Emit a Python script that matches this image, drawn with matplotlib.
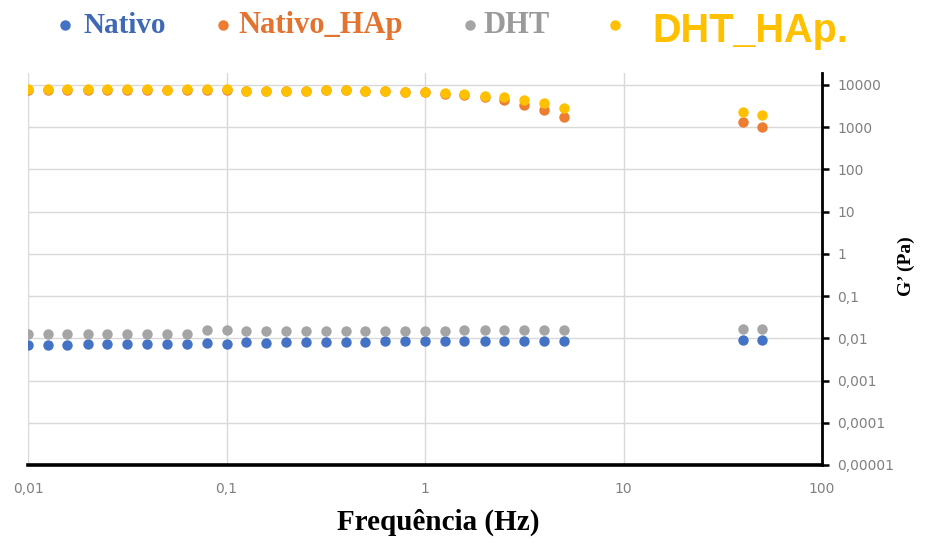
import matplotlib
matplotlib.use("Agg")
import matplotlib.pyplot as plt
from matplotlib.lines import Line2D
from matplotlib.ticker import FixedLocator, FixedFormatter, NullLocator

# ---- data ----
freq_hz = [0.01, 0.0126, 0.0158, 0.02, 0.0251, 0.0316, 0.0398, 0.0501, 0.0631, 0.0794,
           0.1, 0.126, 0.158, 0.2, 0.251, 0.316, 0.398, 0.501, 0.631, 0.794,
           1.0, 1.26, 1.58, 2.0, 2.51, 3.16, 3.98, 5.01, 39.8, 50.1]

nativo = [0.0068, 0.0068, 0.0068, 0.0075, 0.0075, 0.0075, 0.0075, 0.0075, 0.0075, 0.0078,
          0.0075, 0.0080, 0.0078, 0.0080, 0.0080, 0.0083, 0.0083, 0.0083, 0.0086, 0.0086,
          0.0086, 0.0088, 0.0088, 0.0088, 0.0088, 0.0088, 0.0088, 0.0088, 0.0091, 0.0091]

nativo_hap = [7800, 7800, 7800, 7800, 7800, 7800, 7800, 7600, 7800, 7800,
              7800, 7300, 7300, 7300, 7300, 7500, 7500, 7300, 7300, 6800,
              6800, 6200, 5800, 5190, 4420, 3360, 2570, 1780, 1350, 1030]

dht = [0.0129, 0.0129, 0.0129, 0.0129, 0.0129, 0.0129, 0.0129, 0.0129, 0.0129, 0.0155,
       0.0155, 0.0146, 0.0146, 0.0146, 0.0146, 0.0150, 0.0150, 0.0150, 0.0150, 0.0150,
       0.0150, 0.0150, 0.0155, 0.0155, 0.0155, 0.0155, 0.0155, 0.0155, 0.0170, 0.0170]

dht_hap = [7900, 7900, 7900, 7900, 7900, 7900, 7900, 7700, 7900, 7900,
           7900, 7330, 7330, 7330, 7330, 7600, 7600, 7330, 7330, 6710,
           6940, 6360, 6030, 5570, 5110, 4420, 3800, 2900, 2330, 1950]

series_names = ["Nativo", "Nativo_HAp", "DHT", "DHT_HAp."]
series_colors = ["#4472C4", "#ED7D31", "#A5A5A5", "#FFC000"]

x_ticks = [0.01, 0.1, 1, 10, 100]
x_ticklabels = ["0,01", "0,1", "1", "10", "100"]
y_ticks = [1e-5, 1e-4, 1e-3, 1e-2, 1e-1, 1, 10, 100, 1000, 10000]
y_ticklabels = ["0,00001", "0,0001", "0,001", "0,01", "0,1", "1", "10", "100", "1000", "10000"]

x_label = "Frequência (Hz)"
y_label = "G’ (Pa)"

# ---- figure ----
W, H = 927, 543
fig = plt.figure(figsize=(W / 100, H / 100), dpi=100)
ax = fig.add_axes([28 / W, 1 - 465 / H, (822 - 28) / W, (465 - 73) / H])

ms = 7.5
for vals, col, z in [(nativo, series_colors[0], 3), (dht, series_colors[2], 3),
                     (nativo_hap, series_colors[1], 3), (dht_hap, series_colors[3], 4)]:
    ax.plot(freq_hz, vals, linestyle="none", marker="o", markersize=ms,
            color=col, markeredgewidth=0, zorder=z)

ax.set_xscale("log")
ax.set_yscale("log")
ax.set_xlim(0.01, 100)
ax.set_ylim(1e-5, 10 ** 4.284)

ax.xaxis.set_major_locator(FixedLocator(x_ticks))
ax.xaxis.set_major_formatter(FixedFormatter(x_ticklabels))
ax.xaxis.set_minor_locator(NullLocator())
ax.yaxis.set_major_locator(FixedLocator(y_ticks))
ax.yaxis.set_major_formatter(FixedFormatter(y_ticklabels))
ax.yaxis.set_minor_locator(NullLocator())

ax.yaxis.tick_right()
ax.tick_params(axis="y", which="major", direction="out", length=5, width=1.8,
               color="black", labelsize=10, labelcolor="#808080", pad=6)
ax.tick_params(axis="x", which="major", length=0, labelsize=10,
               labelcolor="#808080", pad=12)

ax.grid(True, which="major", color="#d9d9d9", linewidth=1.0)
ax.set_axisbelow(True)

for s in ["top", "left"]:
    ax.spines[s].set_visible(False)
ax.spines["bottom"].set_linewidth(2.6)
ax.spines["bottom"].set_color("black")
ax.spines["right"].set_linewidth(2.0)
ax.spines["right"].set_color("black")

# axis labels
fig.text(438 / W, 1 - 530 / H, x_label, ha="center", va="baseline",
         fontsize=21, fontweight="bold", family="Liberation Serif", color="black")
fig.text(906 / W, 1 - 266 / H, y_label, ha="center", va="center", rotation=90,
         fontsize=14, fontweight="bold", family="Liberation Serif", color="black")

# legend (manual, as in reference)
dot_x = [65, 223, 470, 615]
text_x = [83, 238, 483, 652]
text_base = [33, 33, 33, 42]
text_sizes = [21, 22, 22, 28.5]
text_colors = ["#3f68b5", "#E27430", "#9a9a9a", "#FFC000"]
for i, name in enumerate(series_names):
    fig.add_artist(Line2D([dot_x[i] / W], [1 - 25 / H], marker="o", markersize=7.5,
                          color=series_colors[i], markeredgewidth=0,
                          transform=fig.transFigure))
    fam = "Liberation Serif" if i < 3 else "Liberation Sans"
    fig.text(text_x[i] / W, 1 - text_base[i] / H, name, ha="left", va="baseline",
             fontsize=text_sizes[i], fontweight="bold", family=fam,
             color=text_colors[i])

fig.savefig("out.png", dpi=100)
